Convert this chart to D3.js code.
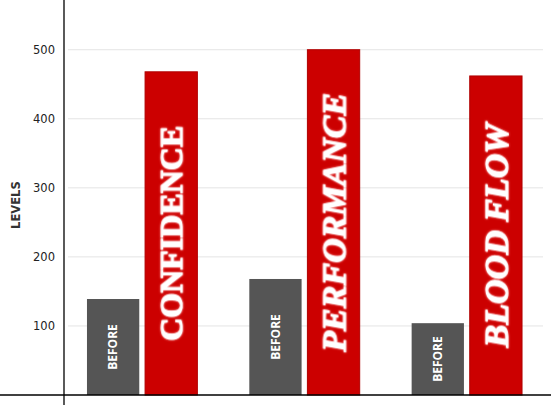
<!DOCTYPE html>
<html>
<head>
<meta charset="utf-8">
<script src="https://cdn.jsdelivr.net/npm/d3@7"></script>
<style>
  body { margin: 0; background: #fff; }
  svg { display: block; }
</style>
</head>
<body>
<script>
// chart values
var categories = ["CONFIDENCE", "PERFORMANCE", "BLOOD FLOW"];
var beforeValues = [139, 168, 104];
var afterValues = [468, 500, 462];
var yTicks = [100, 200, 300, 400, 500];
var beforeLabel = "BEFORE";
var axisTitle = "LEVELS";

var width = 551, height = 405;
var axisX = 64, baseY = 395;

var svg = d3.select("body")
    .append("svg")
    .attr("width", width)
    .attr("height", height);

// soft pink halo behind the big labels
var glow = svg.append("defs").append("filter")
    .attr("id", "glow")
    .attr("x", "-20%").attr("y", "-20%")
    .attr("width", "140%").attr("height", "140%");
glow.append("feGaussianBlur")
    .attr("in", "SourceAlpha")
    .attr("stdDeviation", 1.2)
    .attr("result", "blur");
glow.append("feFlood").attr("flood-color", "#ff9a9a").attr("result", "col");
glow.append("feComposite").attr("in", "col").attr("in2", "blur").attr("operator", "in").attr("result", "halo");
var merge = glow.append("feMerge");
merge.append("feMergeNode").attr("in", "halo");
merge.append("feMergeNode").attr("in", "SourceGraphic");

var y = d3.scaleLinear()
    .domain([0, 572])
    .range([baseY, 0]);

var x0 = d3.scaleBand()
    .domain(categories)
    .range([61, 548])
    .paddingInner(0.32)
    .paddingOuter(0.16);

var x1 = d3.scaleBand()
    .domain(["before", "after"])
    .range([0, x0.bandwidth()])
    .paddingInner(0.1);

// grid lines
svg.append("g")
    .selectAll("line")
    .data(yTicks)
    .enter().append("line")
    .attr("x1", 68)
    .attr("x2", 543)
    .attr("y1", d => y(d))
    .attr("y2", d => y(d))
    .attr("stroke", "#e4e4e4")
    .attr("stroke-width", 1);

// y axis labels
var yAxis = d3.axisLeft(y).tickValues(yTicks).tickSize(0).tickPadding(9);
var gy = svg.append("g")
    .attr("transform", "translate(" + axisX + ",0)")
    .call(yAxis);
gy.select(".domain").remove();
gy.selectAll("text")
    .style("font-family", "DejaVu Sans")
    .style("font-size", "11.5px")
    .attr("fill", "#222");

svg.append("text")
    .attr("transform", "translate(20," + y(275) + ") rotate(-90)")
    .attr("text-anchor", "middle")
    .style("font-family", "DejaVu Sans")
    .style("font-weight", "bold")
    .style("font-size", "11.5px")
    .attr("fill", "#333")
    .text(axisTitle);

var rows = categories.map((c, i) => ({ cat: c, before: beforeValues[i], after: afterValues[i], i: i }));

var group = svg.selectAll("g.grp")
    .data(rows)
    .enter().append("g")
    .attr("class", "grp")
    .attr("transform", d => "translate(" + x0(d.cat) + ",0)");

// before bars
group.append("rect")
    .attr("x", x1("before"))
    .attr("y", d => y(d.before))
    .attr("width", x1.bandwidth())
    .attr("height", d => baseY - y(d.before))
    .attr("fill", "#555555");

group.append("text")
    .attr("transform", d => "translate(" + (x1("before") + x1.bandwidth() / 2) + "," + (y(d.before) + baseY) / 2 + ") rotate(-90)")
    .attr("text-anchor", "middle")
    .attr("dy", "0.36em")
    .style("font-family", "Open Sans")
    .style("font-weight", "bold")
    .style("font-size", "12px")
    .attr("fill", "#fff")
    .text(beforeLabel);

// after bars
group.append("rect")
    .attr("x", x1("after"))
    .attr("y", d => y(d.after))
    .attr("width", x1.bandwidth())
    .attr("height", d => baseY - y(d.after))
    .attr("fill", "#cc0000")
    .attr("stroke", "#b00000")
    .attr("stroke-width", 1);

group.append("text")
    .attr("transform", d => "translate(" + (x1("after") + x1.bandwidth() / 2) + "," + (y(d.after) + baseY) / 2 + ") rotate(-90)")
    .attr("text-anchor", "middle")
    .attr("dy", "0.34em")
    .attr("filter", "url(#glow)")
    .style("font-family", "Liberation Serif")
    .style("font-weight", "bold")
    .style("font-style", d => d.i === 0 ? "normal" : "italic")
    .style("font-size", d => d.i === 0 ? "32px" : "34px")
    .attr("fill", "#fff")
    .attr("stroke", "#fff")
    .attr("stroke-width", 1.1)
    .attr("stroke-linejoin", "round")
    .text(d => d.cat);

// axis lines
svg.append("line")
    .attr("x1", 0).attr("x2", width)
    .attr("y1", baseY).attr("y2", baseY)
    .attr("stroke", "#000").attr("stroke-width", 1.3);

svg.append("line")
    .attr("x1", axisX).attr("x2", axisX)
    .attr("y1", 0).attr("y2", height)
    .attr("stroke", "#000").attr("stroke-width", 1.3);
</script>
</body>
</html>
